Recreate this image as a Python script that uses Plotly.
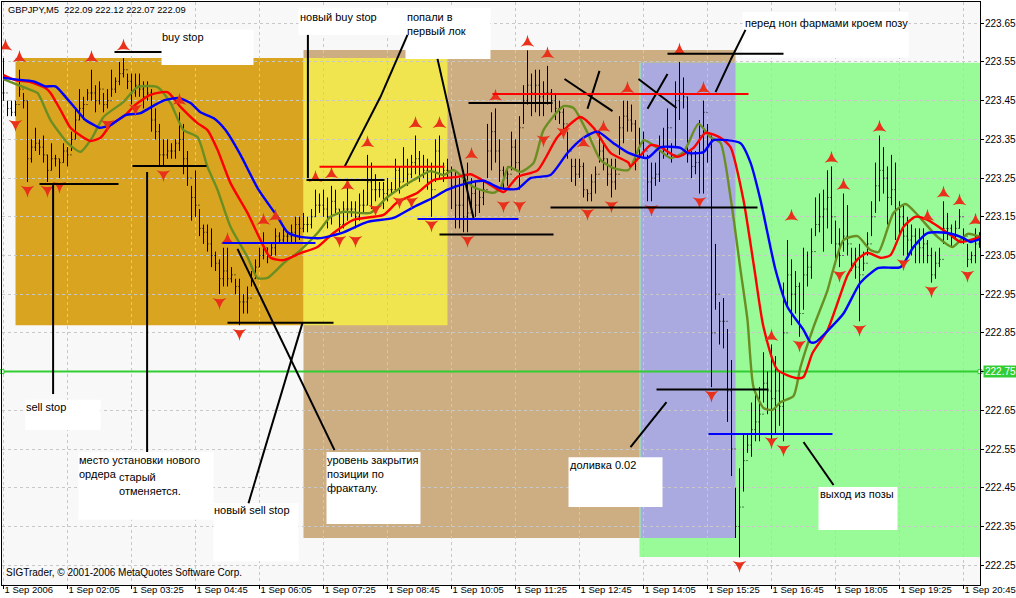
import plotly.graph_objects as go

# ---- price bars (5-minute bars, one per index) ----
highs = [
223.56,223.45,223.45,223.45,223.53,223.47,223.45,223.35,223.38,223.35,
223.36,223.31,223.34,223.31,223.30,223.34,223.33,223.37,223.43,223.48,
223.46,223.48,223.53,223.49,223.50,223.47,223.48,223.53,223.51,223.55,
223.56,223.52,223.52,223.52,223.52,223.50,223.50,223.48,223.43,223.39,
223.35,223.35,223.34,223.35,223.42,223.39,223.32,223.23,223.27,223.17,
223.13,223.13,223.12,223.06,223.04,223.07,223.07,223.02,222.99,222.99,
222.95,222.97,223.01,223.04,223.07,223.11,223.07,223.08,223.12,223.11,
223.12,223.11,223.13,223.15,223.15,223.16,223.15,223.17,223.22,223.21,
223.22,223.20,223.23,223.22,223.17,223.19,223.24,223.19,223.19,223.21,
223.22,223.31,223.29,223.26,223.24,223.24,223.25,223.24,223.30,223.28,
223.33,223.30,223.31,223.36,223.32,223.31,223.30,223.29,223.35,223.36,
223.29,223.30,223.28,223.27,223.25,223.27,223.29,223.25,223.24,223.22,
223.24,223.39,223.42,223.43,223.35,223.28,223.28,223.37,223.35,223.41,
223.49,223.58,223.52,223.53,223.53,223.50,223.54,223.48,223.47,223.45,
223.43,223.37,223.30,223.30,223.30,223.29,223.22,223.26,223.28,223.37,
223.34,223.30,223.30,223.30,223.41,223.45,223.45,223.44,223.40,223.38,
223.37,223.31,223.29,223.29,223.36,223.38,223.43,223.34,223.50,223.55,
223.51,223.46,223.32,223.32,223.40,223.45,223.39,223.36,223.08,222.93,
222.94,222.86,222.78,222.45,222.50,222.59,222.59,222.67,222.69,222.71,
222.80,222.75,222.82,222.79,222.75,222.98,223.09,223.04,223.01,222.98,
223.07,223.06,223.12,223.20,223.21,223.22,223.27,223.28,223.14,223.12,
223.21,223.18,223.07,223.07,223.08,223.06,223.11,223.19,223.29,223.36,
223.33,223.28,223.31,223.29,223.19,223.18,223.15,223.13,223.12,223.12,
223.12,223.09,223.07,223.06,223.07,223.19,223.16,223.13,223.14,223.17,
223.12,223.08,223.06,223.12,223.11]
lows = [
223.45,223.41,223.41,223.41,223.46,223.43,223.24,223.29,223.32,223.31,
223.29,223.24,223.27,223.28,223.25,223.29,223.28,223.32,223.35,223.40,
223.40,223.45,223.45,223.42,223.44,223.42,223.43,223.46,223.47,223.49,
223.51,223.48,223.44,223.46,223.46,223.43,223.45,223.37,223.35,223.28,
223.28,223.30,223.30,223.30,223.32,223.26,223.23,223.14,223.15,223.10,
223.08,223.06,223.02,223.01,222.95,222.97,222.97,222.98,222.95,222.87,
222.90,222.90,222.97,222.99,223.02,223.04,223.03,223.05,223.05,223.08,
223.08,223.08,223.08,223.08,223.09,223.11,223.11,223.12,223.15,223.16,
223.15,223.12,223.13,223.16,223.11,223.12,223.14,223.15,223.12,223.14,
223.16,223.18,223.17,223.19,223.20,223.17,223.19,223.21,223.22,223.21,
223.24,223.23,223.25,223.26,223.24,223.25,223.22,223.15,223.24,223.25,
223.24,223.25,223.17,223.12,223.12,223.11,223.11,223.17,223.15,223.16,
223.18,223.25,223.27,223.29,223.24,223.22,223.23,223.27,223.27,223.22,
223.39,223.44,223.41,223.42,223.41,223.41,223.44,223.42,223.40,223.39,
223.37,223.30,223.24,223.23,223.25,223.20,223.19,223.19,223.21,223.29,
223.27,223.23,223.20,223.22,223.31,223.34,223.37,223.37,223.27,223.30,
223.30,223.19,223.19,223.23,223.24,223.30,223.31,223.29,223.33,223.40,
223.43,223.29,223.25,223.26,223.21,223.21,223.29,222.71,222.91,222.82,
222.81,222.62,222.48,222.32,222.27,222.44,222.54,222.53,222.57,222.57,
222.67,222.64,222.57,222.59,222.61,222.57,222.92,222.87,222.90,222.84,
222.91,222.97,222.99,223.10,223.11,223.06,223.12,223.08,223.04,223.02,
223.06,223.05,223.01,222.99,222.88,223.01,223.05,223.10,223.16,223.19,
223.21,223.13,223.18,223.09,223.10,223.05,223.05,223.05,223.03,223.03,
223.03,223.03,222.98,222.99,223.02,223.08,223.09,223.07,223.09,223.12,
223.08,223.02,223.03,223.03,223.07]
closes = [
223.47,223.43,223.42,223.44,223.48,223.45,223.30,223.33,223.34,223.33,
223.31,223.27,223.30,223.30,223.29,223.32,223.31,223.35,223.40,223.43,
223.44,223.47,223.47,223.45,223.48,223.44,223.45,223.48,223.50,223.52,
223.53,223.50,223.47,223.49,223.48,223.46,223.47,223.40,223.37,223.31,
223.31,223.32,223.32,223.34,223.35,223.30,223.25,223.20,223.18,223.12,
223.11,223.08,223.05,223.03,222.99,223.01,222.99,223.00,222.97,222.93,
222.93,222.94,222.99,223.02,223.05,223.07,223.05,223.07,223.10,223.09,
223.10,223.10,223.11,223.13,223.12,223.13,223.13,223.15,223.18,223.18,
223.17,223.15,223.19,223.17,223.13,223.17,223.17,223.17,223.15,223.18,
223.18,223.24,223.22,223.22,223.22,223.21,223.22,223.22,223.27,223.24,
223.28,223.26,223.29,223.30,223.28,223.27,223.24,223.22,223.32,223.28,
223.27,223.27,223.23,223.18,223.18,223.15,223.16,223.21,223.18,223.20,
223.22,223.32,223.37,223.32,223.27,223.25,223.26,223.33,223.29,223.38,
223.45,223.49,223.47,223.49,223.46,223.47,223.47,223.45,223.43,223.42,
223.39,223.32,223.28,223.26,223.28,223.22,223.21,223.24,223.26,223.32,
223.30,223.26,223.24,223.26,223.38,223.41,223.40,223.39,223.31,223.34,
223.32,223.24,223.25,223.26,223.33,223.33,223.38,223.31,223.45,223.47,
223.46,223.31,223.28,223.29,223.36,223.42,223.33,222.85,222.95,222.88,
222.88,222.70,222.55,222.35,222.40,222.52,222.56,222.60,222.62,222.64,
222.72,222.70,222.68,222.70,222.66,222.85,223.00,222.95,222.97,222.90,
223.00,223.02,223.06,223.13,223.15,223.17,223.20,223.15,223.08,223.05,
223.10,223.08,223.03,223.02,223.00,223.03,223.08,223.15,223.23,223.27,
223.25,223.20,223.22,223.17,223.15,223.10,223.09,223.10,223.08,223.07,
223.08,223.05,223.00,223.03,223.04,223.12,223.12,223.10,223.12,223.15,
223.10,223.04,223.05,223.08,223.09]
opens = closes[:1] + closes[:-1]

# ---- moving averages, read at the bar indices given ----
blue_bar = [0,3,7.5,10.5,13,15.5,18,20.5,23,24,26.75,30.5,34.25,38,40.5,43.75,46.75,49.25,52.5,55.5,59.25,63.75,68.5,71,74.25,79.25,85,91,97.5,102.5,107.5,111,116,120,124.25,128.5,131.75,136.75,141,145,148.5,152.5,156.25,161,164.25,169.25,171,175,177.5,184.25,186.75,189.25,191,193,196,200,201.75,203,206.75,210,214.25,218.75,224.25,227.5,231,236,240,241.75,244.25]
blue_val = [223.509,223.505,223.50,223.487,223.487,223.46,223.43,223.40,223.385,223.38,223.387,223.413,223.418,223.44,223.452,223.457,223.444,223.42,223.405,223.374,223.31,223.22,223.15,223.11,223.098,223.095,223.11,223.137,223.147,223.175,223.20,223.22,223.237,223.243,223.224,223.222,223.25,223.258,223.315,223.354,223.37,223.34,223.315,223.302,223.33,223.328,223.315,223.317,223.348,223.34,223.29,223.193,223.108,223.013,222.917,222.858,222.826,222.826,222.863,222.90,222.98,223.018,223.02,223.072,223.108,223.108,223.095,223.085,223.093]
red_bar = [0,3,6.75,10.5,11.75,14.25,16.75,19.25,21.75,24.25,26.75,30.5,33,36.75,41,44.25,48.5,51,53.5,56.75,61,64.25,66.75,70,74.25,78.5,82.5,87.5,95,98.5,103.5,107.5,113.5,116.75,121,125,128.5,133.5,138.5,144.25,147.5,151.75,156.25,156.75,161.75,164.25,168.5,172.5,175.5,179.25,181.75,185,187.75,190,193.5,198.5,200,202.25,206,208.5,211,213.5,216,219.25,221.75,225,228,231,236.75,239.25,244.25]
red_val = [223.516,223.503,223.498,223.483,223.47,223.426,223.38,223.36,223.346,223.354,223.387,223.413,223.44,223.465,223.472,223.434,223.392,223.374,223.323,223.237,223.16,223.09,223.044,223.038,223.056,223.072,223.108,223.142,223.155,223.188,223.212,223.245,223.253,223.26,223.237,223.214,223.253,223.27,223.356,223.408,223.38,223.315,223.29,223.28,223.335,223.33,223.305,223.328,223.367,223.354,223.33,223.193,223.013,222.865,222.754,222.733,222.736,222.798,222.857,222.927,222.999,223.04,223.057,223.044,223.051,223.124,223.15,223.142,223.103,223.085,223.098]
olive_bar = [0,6.75,8.5,11.75,16,19.25,22.25,25,30,33.5,38.5,41.75,45,48.5,51,53.5,56.75,61,63.5,66,70,74.25,78.5,81.75,85,91.75,96,102.5,106.75,110,112.5,117.5,122.5,124.25,126.25,129.25,132.5,135,140,142.5,146,149.25,152.5,156.25,160,162.5,166.75,170,173.75,176.75,179.25,181.75,184.25,186,187.5,190,192.25,194.25,197.5,199.25,202.5,206,207.25,210,213.5,216.75,218.75,222.5,225.5,228.5,233.5,237.25,241,244.25]
olive_val = [223.506,223.478,223.47,223.40,223.341,223.318,223.356,223.408,223.447,223.485,223.485,223.444,223.374,223.356,223.279,223.22,223.124,223.046,222.992,222.992,223.03,223.064,223.108,223.15,223.163,223.16,223.201,223.245,223.268,223.258,223.271,223.227,223.212,223.224,223.279,223.266,223.289,223.374,223.436,223.431,223.367,223.297,223.276,223.271,223.348,223.335,223.302,223.317,223.39,223.356,223.341,223.201,223.013,222.883,222.71,222.656,222.651,222.671,222.687,222.762,222.865,222.96,223.007,223.09,223.10,223.064,223.059,223.16,223.183,223.155,223.098,223.072,223.106,223.098]

# ---- fractals ----
up_bar = [0.5,4,22,30,44,56,65,68,78,82,86,91,103,109,117,123,131,136,145,150,156,169,175,192,197,207,210,219,231,235,239,243]
up_val = [223.59,223.56,223.56,223.59,223.45,223.09,223.14,223.15,223.25,223.26,223.23,223.34,223.39,223.39,223.31,223.46,223.60,223.57,223.34,223.38,223.48,223.58,223.48,222.84,223.15,223.30,223.23,223.38,223.15,223.21,223.19,223.14]
down_bar = [3,6,11,14,26,33,40,54,59,84,88,93,99,102,107,116,125,129,135,140,146,152,162,174,177,184,192,195,199,209,214,225,232,241]
down_val = [223.39,223.22,223.22,223.23,223.39,223.43,223.26,222.93,222.85,223.09,223.09,223.17,223.19,223.19,223.13,223.09,223.18,223.18,223.35,223.37,223.16,223.18,223.17,223.19,222.69,222.25,222.57,222.55,222.82,223.00,222.86,223.03,222.96,223.00]

# ---- axis ticks ----
tick_bars = list(range(0, 241, 16))
tick_labels = ["1 Sep 2006","1 Sep 02:05","1 Sep 03:25","1 Sep 04:45","1 Sep 06:05","1 Sep 07:25","1 Sep 08:45","1 Sep 10:05","1 Sep 11:25","1 Sep 12:45","1 Sep 14:05","1 Sep 15:25","1 Sep 16:45","1 Sep 18:05","1 Sep 19:25","1 Sep 20:45"]
price_ticks = [222.25,222.35,222.45,222.55,222.65,222.75,222.85,222.95,223.05,223.15,223.25,223.35,223.45,223.55,223.65]
price_labels = ["222.25","222.35","222.45","222.55","222.65","","222.85","222.95","223.05","223.15","223.25","223.35","223.45","223.55","223.65"]
current_level = 222.75

# ---- zones: bar0, bar1, price0, price1, colour (drawing order) ----
zones = [
 (75,183,222.32,223.581,"#CDAD82"),
 (3,75,222.87,223.56,"#D9A520"),
 (75,111,222.87,223.56,"#F0E54E"),
 (159,244.125,222.271,223.548,"#98FB98"),
 (159.25,183,222.32,223.548,"#AAAAE0"),
]
# ---- white label boxes: bar0, bar1, price0, price1 ----
boxes = [
 (39.5,62.5,223.542,223.633),(73.75,100.5,223.62,223.69),(100.5,121.75,223.558,223.69),
 (184.75,226.25,223.56,223.679),(5.5,24.25,222.599,222.677),(18.75,52.5,222.367,222.542),
 (52.5,73.75,222.26,222.41),(80.75,104.25,222.356,222.542),(141.25,164.75,222.40,222.529),
 (203.75,223.5,222.341,222.452),
]
# ---- drawn trend objects: bar0, price0, bar1, price1 ----
black_lines = [
 (27.75,223.576,39.5,223.576),(9,223.235,28.75,223.235),(32.25,223.281,50.75,223.281),
 (12.4,223.235,12.4,222.692),(35.9,223.266,35.9,222.542),(56,222.876,82.5,222.876),
 (58.5,223.067,82.75,222.547),(74.75,222.876,61.25,222.41),(76.1,223.62,76.1,223.25),
 (75.75,223.245,95.25,223.245),(85.25,223.279,94.25,223.46),(94.25,223.46,101,223.62),
 (108.5,223.558,117.5,223.147),(109,223.104,137.5,223.104),(116.25,223.444,137.25,223.444),
 (140.25,223.506,152.25,223.423),(146,223.429,149,223.527),(136.75,223.174,188.5,223.174),
 (158.75,223.506,168.25,223.431),(161,223.429,166,223.519),(166,223.571,195,223.571),
 (178,223.472,181.75,223.555),(181.75,223.555,185.5,223.633),(163.25,222.704,191.25,222.704),
 (156.75,222.555,165.75,222.671),(200,222.568,207.5,222.457),
]
red_levels = [(79,223.279,110.25,223.279),(122.25,223.467,186.25,223.467)]
blue_levels = [(54.75,223.082,78,223.082),(103.5,223.144,128.75,223.144),(176.25,222.589,207.25,222.589)]
# ---- text labels: bar, price, text, font size ----
labels = [
 (1,223.684,"GBPJPY,M5  222.09 222.12 222.07 222.09",9.3),
 (0.5,222.23,"SIGTrader, © 2001-2006 MetaQuotes Software Corp.",10),
 (39.5,223.615,"buy stop",11),(74,223.666,"новый buy stop",11),
 (100.75,223.666,"попали в",11),(100.75,223.63,"первый лок",11),
 (185.25,223.65,"перед нон фармами кроем позу",11),(5.5,222.658,"sell stop",11),
 (18.75,222.522,"место установки нового",11),(18.75,222.485,"ордера",11),
 (28.75,222.478,"старый",11),(28.75,222.442,"отменяется.",11),
 (52.5,222.392,"новый sell stop",11),(80.75,222.522,"уровень закрытия",11),
 (80.75,222.485,"позиции по",11),(80.75,222.449,"фракталу.",11),
 (141.5,222.509,"доливка 0.02",11),(204,222.434,"выход из позы",11),
]

FONT = "Liberation Sans"
X_RANGE = [-0.375, 244.125]
fig = go.Figure()
fig.add_trace(go.Ohlc(x=list(range(len(highs))), open=opens, high=highs, low=lows, close=closes,
    tickwidth=0.25, increasing_line=dict(color="black", width=1), decreasing_line=dict(color="black", width=1)))
for bx, vals, col in [(olive_bar, olive_val, "#6B8E23"), (red_bar, red_val, "#FF0000"), (blue_bar, blue_val, "#0000FF")]:
    fig.add_trace(go.Scatter(x=bx, y=vals, mode="lines", line=dict(color=col, width=2.4, shape="spline", smoothing=0.6)))
fig.add_trace(go.Scatter(x=up_bar, y=up_val, mode="markers",
    marker=dict(symbol="star-triangle-up", size=10, color="#E8301A", line=dict(width=0))))
fig.add_trace(go.Scatter(x=down_bar, y=down_val, mode="markers",
    marker=dict(symbol="star-triangle-down", size=10, color="#E8301A", line=dict(width=0))))
fig.add_trace(go.Scatter(x=[X_RANGE[0], X_RANGE[1]], y=[current_level]*2, mode="markers", cliponaxis=False,
    marker=dict(symbol="square", size=4, color="white", line=dict(color="#32CD32", width=1))))

shapes = []
for x0, x1, y0, y1, c in zones:
    shapes.append(dict(type="rect", layer="below", x0=x0, x1=x1, y0=y0, y1=y1, fillcolor=c, line_width=0))
for x0, x1, y0, y1 in boxes:
    shapes.append(dict(type="rect", layer="between", x0=x0, x1=x1, y0=y0, y1=y1, fillcolor="white", line_width=0))
shapes.append(dict(type="line", layer="between", x0=X_RANGE[0], x1=X_RANGE[1], y0=current_level, y1=current_level, line=dict(color="#32CD32", width=2)))
for group, col in [(black_lines, "black"), (red_levels, "#FF0000"), (blue_levels, "#0000FF")]:
    for x0, y0, x1, y1 in group:
        shapes.append(dict(type="line", layer="above", x0=x0, y0=y0, x1=x1, y1=y1, line=dict(color=col, width=2)))

annotations = [dict(x=b, y=p, text=t, xref="x", yref="y", xanchor="left", yanchor="middle", showarrow=False,
                    xshift=-2, font=dict(family=FONT, size=s, color="black")) for b, p, t, s in labels]
annotations.append(dict(x=X_RANGE[1], y=current_level, xref="x", yref="y", text="222.75", showarrow=False, xanchor="left",
                        xshift=3, width=33, align="center", bgcolor="#32CD32", borderpad=0,
                        font=dict(family=FONT, size=10, color="white")))

fig.update_layout(
    width=1016, height=598, margin=dict(l=2, r=36, t=2, b=13, pad=0), template="none",
    paper_bgcolor="white", plot_bgcolor="#F8F8F8", showlegend=False, hovermode=False,
    shapes=shapes, annotations=annotations, font=dict(family=FONT, size=10, color="black"),
    xaxis=dict(range=X_RANGE, tickmode="array", tickvals=tick_bars, ticktext=tick_labels, automargin=False,
               rangeslider=dict(visible=False), showgrid=True, gridcolor="#C8C8C8", griddash="3px,3px", gridwidth=1,
               zeroline=False, showline=True, mirror=True, linecolor="black", linewidth=1,
               ticks="outside", ticklen=3, tickcolor="black", ticklabelposition="outside right",
               ticklabelstandoff=-4, ticklabeloverflow="allow", tickangle=0, tickfont=dict(family=FONT, size=9.5)),
    yaxis=dict(range=[222.1986, 223.705], side="right", tickmode="array", tickvals=price_ticks, ticktext=price_labels,
               automargin=False, showgrid=True, gridcolor="#C8C8C8", griddash="3px,3px", gridwidth=1,
               zeroline=False, showline=True, mirror=True, linecolor="black", linewidth=1,
               ticks="outside", ticklen=3, tickcolor="black", ticklabelstandoff=-1, tickfont=dict(family=FONT, size=10)),
)
fig.write_html("out.html", config=dict(displayModeBar=False), post_script="document.body.style.margin='0';document.body.style.overflow='hidden';")
